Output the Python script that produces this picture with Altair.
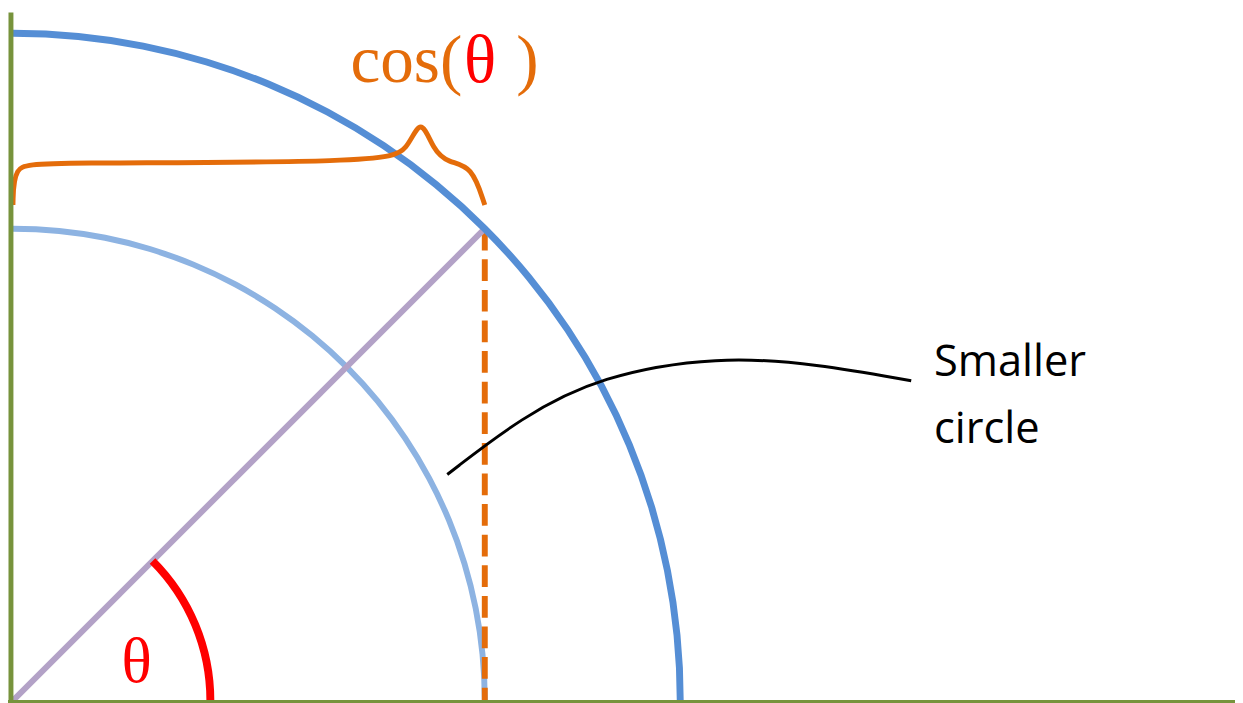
import math

import altair as alt
import pandas as pd

W, H = 1243, 703
ORIGIN = (5, 697)

# radii in pixels
big_radius = [676]
small_radius = [478]
angle_radius = [200]

# brace outline points (pixels)
brace_x = [5, 6, 30, 380, 405, 418, 431, 446, 470, 483]
brace_y = [195, 155, 152, 152, 140, 104, 140, 152, 155, 195]

# callout leader (pixels)
leader_x = [445, 520, 600, 720, 820, 915]
leader_y = [468, 410, 368, 348, 356, 373]

ORANGE = "#E46C0A"
BLUE = "#558ED5"
LIGHT_BLUE = "#8DB3E2"
PURPLE = "#B3A2C7"
GREEN = "#77933C"


def px(field):
    return alt.X(f"{field}:Q", scale=None, axis=None)


def py(field):
    return alt.Y(f"{field}:Q", scale=None, axis=None)


def ring(r, width, color, t0, t1):
    df = pd.DataFrame({"cx": [ORIGIN[0]], "cy": [ORIGIN[1]], "r": [r + width / 2],
                       "r2": [r - width / 2], "t0": [t0], "t1": [t1]})
    return alt.Chart(df).mark_arc(color=color).encode(
        x=px("cx"), y=py("cy"),
        radius=alt.Radius("r:Q", scale=None), radius2="r2",
        theta=alt.Theta("t0:Q", scale=None), theta2="t1",
    )


tip = (ORIGIN[0] + big_radius[0] * math.cos(math.pi / 4),
       ORIGIN[1] - big_radius[0] * math.sin(math.pi / 4))

small = ring(small_radius[0], 6, LIGHT_BLUE, 0, math.pi / 2)
big = ring(big_radius[0], 7, BLUE, 0, math.pi / 2)
red = ring(angle_radius[0], 8, "#FF0000", math.pi / 4, math.pi / 2)

diag = alt.Chart(pd.DataFrame({"x": [ORIGIN[0]], "y": [ORIGIN[1]], "x2": [tip[0]], "y2": [tip[1]]})).mark_rule(
    color=PURPLE, strokeWidth=6).encode(x=px("x"), y=py("y"), x2="x2", y2="y2")

dashed = alt.Chart(pd.DataFrame({"x": [tip[0]], "y": [tip[1]], "y2": [ORIGIN[1]]})).mark_rule(
    color=ORANGE, strokeWidth=6, strokeDash=[22, 9]).encode(x=px("x"), y=py("y"), y2="y2")

brace = alt.Chart(pd.DataFrame({"x": brace_x, "y": brace_y, "o": range(len(brace_x))})).mark_line(
    color=ORANGE, strokeWidth=5, interpolate="basis").encode(x=px("x"), y=py("y"), order="o:Q")

leader = alt.Chart(pd.DataFrame({"x": leader_x, "y": leader_y, "o": range(len(leader_x))})).mark_line(
    color="black", strokeWidth=3, interpolate="basis").encode(x=px("x"), y=py("y"), order="o:Q")

axes = alt.Chart(pd.DataFrame({"x": [3, 0], "y": [0, 699], "x2": [3, W], "y2": [H, 699]})).mark_rule(
    color=GREEN, strokeWidth=5).encode(x=px("x"), y=py("y"), x2="x2", y2="y2")

serif_labels = pd.DataFrame({
    "x": [347, 462, 515, 115],
    "y": [70, 70, 70, 678],
    "t": ["cos(", "θ", ")", "θ"],
    "c": [ORANGE, "#FF0000", ORANGE, "#FF0000"],
    "s": [68, 68, 68, 64],
})
serif_text = alt.Chart(serif_labels).mark_text(align="left", baseline="alphabetic", font="Liberation Serif").encode(
    x=px("x"), y=py("y"), text="t:N",
    color=alt.Color("c:N", scale=None), size=alt.Size("s:Q", scale=None),
)

callout_labels = pd.DataFrame({"x": [938, 938], "y": [368, 436], "t": ["Smaller", "circle"]})
callout_text = alt.Chart(callout_labels).mark_text(
    align="left", baseline="alphabetic", font="Open Sans", fontSize=44, color="black"
).encode(x=px("x"), y=py("y"), text="t:N")

chart = alt.layer(small, dashed, diag, big, red, brace, leader, axes, serif_text, callout_text).properties(
    width=W, height=H, padding=0, autosize="none",
).configure_view(stroke=None)

chart.save("out.html", embed_options={"renderer": "svg", "actions": False})
